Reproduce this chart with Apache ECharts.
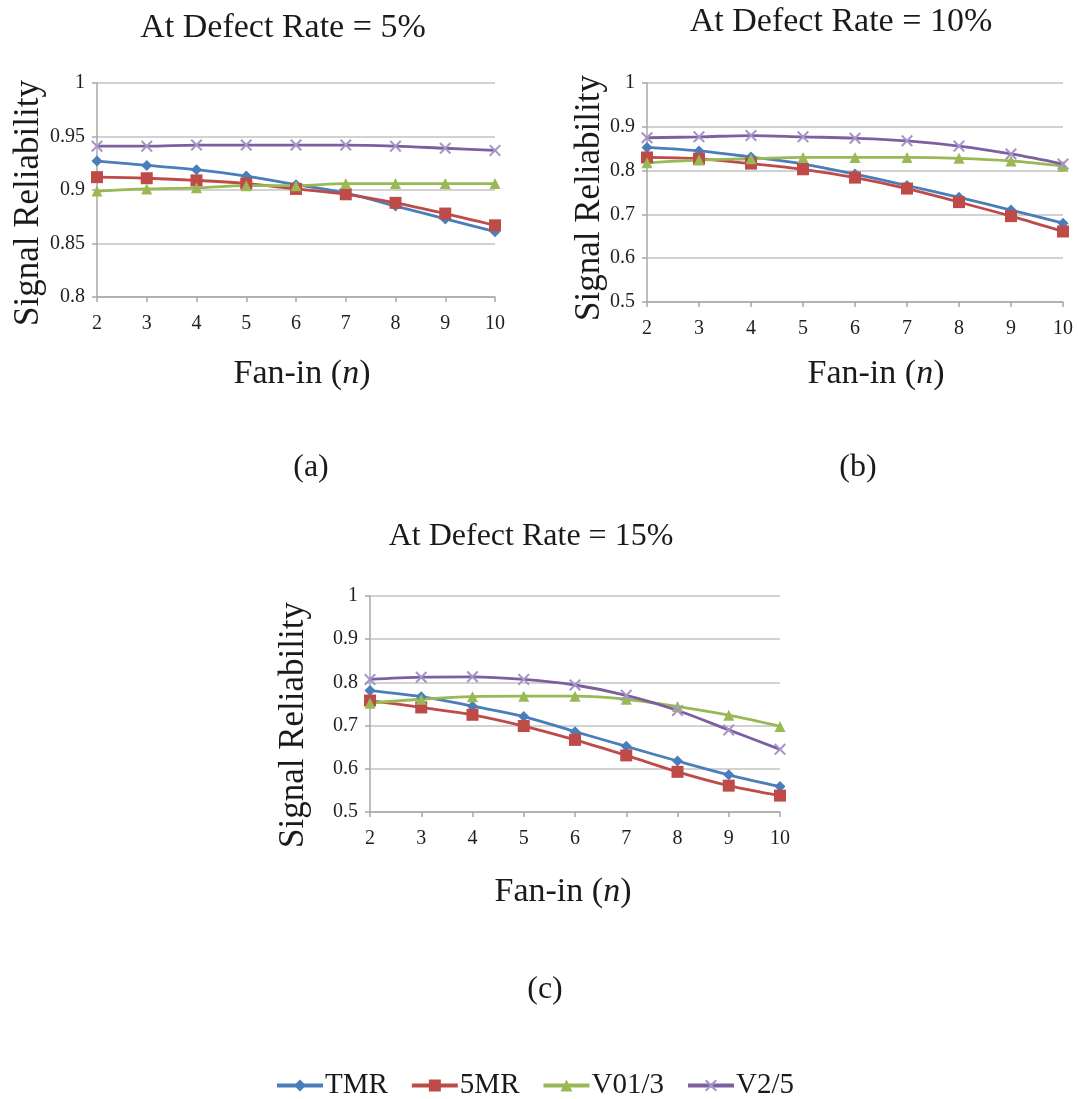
<!DOCTYPE html>
<html>
<head>
<meta charset="utf-8">
<script src="https://cdn.jsdelivr.net/npm/echarts@6/dist/echarts.min.js"></script>
<style>
  html, body { margin: 0; padding: 0; background: #ffffff; }
  #chart { width: 1078px; height: 1099px; }
</style>
</head>
<body>
<div id="chart"></div>
<script>
// Fan-in values on the horizontal axis
const fanIn = ['2', '3', '4', '5', '6', '7', '8', '9', '10'];

// Defect rate 5%
const tmr5  = [0.927, 0.923, 0.919, 0.913, 0.905, 0.897, 0.885, 0.873, 0.861];
const mr5_5 = [0.912, 0.911, 0.909, 0.906, 0.901, 0.896, 0.888, 0.878, 0.867];
const v013_5 = [0.899, 0.901, 0.902, 0.904, 0.904, 0.906, 0.906, 0.906, 0.906];
const v25_5 = [0.941, 0.941, 0.942, 0.942, 0.942, 0.942, 0.941, 0.939, 0.937];

// Defect rate 10%
const tmr10  = [0.853, 0.845, 0.831, 0.815, 0.792, 0.766, 0.739, 0.710, 0.680];
const mr5_10 = [0.830, 0.827, 0.816, 0.803, 0.784, 0.759, 0.728, 0.696, 0.661];
const v013_10 = [0.818, 0.824, 0.827, 0.830, 0.830, 0.830, 0.828, 0.822, 0.810];
const v25_10 = [0.875, 0.877, 0.880, 0.877, 0.874, 0.868, 0.856, 0.838, 0.815];

// Defect rate 15%
const tmr15  = [0.781, 0.767, 0.745, 0.721, 0.686, 0.652, 0.618, 0.586, 0.559];
const mr5_15 = [0.758, 0.742, 0.725, 0.699, 0.667, 0.631, 0.593, 0.561, 0.538];
const v013_15 = [0.752, 0.761, 0.767, 0.768, 0.768, 0.761, 0.744, 0.724, 0.698];
const v25_15 = [0.807, 0.812, 0.813, 0.807, 0.794, 0.770, 0.735, 0.690, 0.645];

const seriesNames = ['TMR', '5MR', 'V01/3', 'V2/5'];
const panelTitles = ['At Defect Rate = 5%', 'At Defect Rate = 10%', 'At Defect Rate = 15%'];
const yLabelTitle = 'Signal Reliability';
const captions = ['(a)', '(b)', '(c)'];

const SERIF = '"Liberation Serif", "DejaVu Serif", serif';
const lineColors = ['#4a7ebb', '#be4b48', '#98b954', '#7d5fa0'];
const xMark = 'path://M0,1.2 L1.2,0 L5,3.8 L8.8,0 L10,1.2 L6.2,5 L10,8.8 L8.8,10 L5,6.2 L1.2,10 L0,8.8 L3.8,5 Z';
const symbols = ['diamond', 'rect', 'triangle', xMark];
const symbolSizes = [11, 12, 11, 12];
const symbolColors = ['#4a7ebb', '#be4b48', '#98b954', '#a594c6'];

const panels = [
  { data: [tmr5, mr5_5, v013_5, v25_5], min: 0.8, max: 1, interval: 0.05,
    grid: { left: 97, top: 83, width: 398, height: 214 } },
  { data: [tmr10, mr5_10, v013_10, v25_10], min: 0.5, max: 1, interval: 0.1,
    grid: { left: 647, top: 83, width: 416, height: 219 } },
  { data: [tmr15, mr5_15, v013_15, v25_15], min: 0.5, max: 1, interval: 0.1,
    grid: { left: 370, top: 596, width: 410, height: 216 } }
];

const gridLine = '#c3c3c3';
const axisGray = '#a8a8a8';
const labelStyle = { fontFamily: SERIF, fontSize: 20, color: '#1e1e1e' };

const grids = [], xAxes = [], yAxes = [], series = [];
panels.forEach((p, i) => {
  grids.push(p.grid);
  xAxes.push({
    type: 'category', gridIndex: i, data: fanIn, boundaryGap: false,
    axisLine: { show: true, lineStyle: { color: axisGray, width: 1.5 } },
    axisTick: { show: true, length: 5, lineStyle: { color: axisGray, width: 1.5 } },
    axisLabel: Object.assign({ margin: 17 }, labelStyle),
    splitLine: { show: false }
  });
  yAxes.push({
    type: 'value', gridIndex: i, min: p.min, max: p.max, interval: p.interval,
    axisLine: { show: true, lineStyle: { color: axisGray, width: 1.5 } },
    axisTick: { show: true, length: 5, lineStyle: { color: axisGray, width: 1.5 } },
    axisLabel: Object.assign({ margin: 12 }, labelStyle),
    splitLine: { show: true, lineStyle: { color: gridLine, width: 1.5 } }
  });
  p.data.forEach((vals, k) => {
    series.push({
      name: seriesNames[k], type: 'line', xAxisIndex: i, yAxisIndex: i,
      data: vals, smooth: 0.35,
      symbol: symbols[k], symbolSize: symbolSizes[k],
      lineStyle: { color: lineColors[k], width: 2.8 },
      itemStyle: { color: symbolColors[k] },
      emphasis: { disabled: true },
      animation: false
    });
  });
});

function textEl(x, y, text, size, rotation) {
  return {
    type: 'text', x: x, y: y, rotation: rotation || 0,
    style: {
      text: text, fontFamily: SERIF, fontSize: size, fill: '#1a1a1a',
      textAlign: 'center', textVerticalAlign: 'middle'
    }
  };
}

function fanInEl(x, y) {
  return {
    type: 'text', x: x, y: y,
    style: {
      text: '{r|Fan-in (}{i|n}{r|)}',
      textAlign: 'center', textVerticalAlign: 'middle',
      rich: {
        r: { fontFamily: SERIF, fontSize: 34, fill: '#1a1a1a' },
        i: { fontFamily: SERIF, fontSize: 34, fontStyle: 'italic', fill: '#1a1a1a' }
      }
    }
  };
}

const graphics = [
  textEl(283, 28, panelTitles[0], 34),
  textEl(841, 22, panelTitles[1], 34),
  textEl(531, 537, panelTitles[2], 32),
  textEl(29, 203, yLabelTitle, 35, Math.PI / 2),
  textEl(590, 198, yLabelTitle, 35, Math.PI / 2),
  textEl(294, 725, yLabelTitle, 35, Math.PI / 2),
  fanInEl(302, 374),
  fanInEl(876, 374),
  fanInEl(563, 892),
  textEl(311, 468, captions[0], 32),
  textEl(858, 468, captions[1], 32),
  textEl(545, 990, captions[2], 32)
];

const chart = echarts.init(document.getElementById('chart'), null, { renderer: 'canvas' });
chart.setOption({
  backgroundColor: '#ffffff',
  animation: false,
  grid: grids,
  xAxis: xAxes,
  yAxis: yAxes,
  series: series,
  legend: {
    data: seriesNames,
    left: 270, top: 1066,
    itemWidth: 46, itemHeight: 15, itemGap: 22,
    lineStyle: { width: 4 },
    textStyle: { fontFamily: SERIF, fontSize: 29, color: '#1a1a1a', padding: [0, 0, 0, -3] }
  },
  graphic: graphics
});
</script>
</body>
</html>
